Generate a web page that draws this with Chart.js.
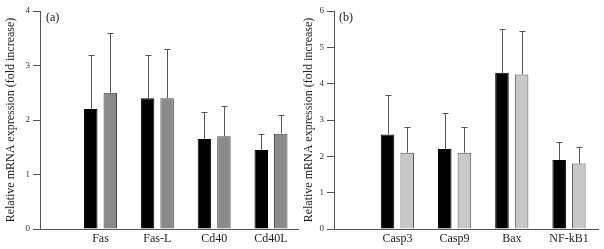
<!DOCTYPE html>
<html>
<head>
<meta charset="utf-8">
<script src="https://cdn.jsdelivr.net/npm/chart.js@4.4.0/dist/chart.umd.min.js"></script>
<style>
    html, body { margin: 0; padding: 0; background: #ffffff; }
    .panel { position: absolute; top: 0; }
    #panelA { left: 0; width: 300px; height: 249px; }
    #panelB { left: 300px; width: 304px; height: 249px; }
</style>
</head>
<body>
<div class="panel" id="panelA"><canvas id="chartA" width="300" height="249"></canvas></div>
<div class="panel" id="panelB"><canvas id="chartB" width="304" height="249"></canvas></div>
<script>
// ==========================================================================
// DATOS
// ==========================================================================
const genesA = ['Fas', 'Fas-L', 'Cd40', 'Cd40L'];
const blackA = [2.2, 2.4, 1.65, 1.45];
const grayA = [2.5, 2.4, 1.7, 1.75];
const blackErrA = [1.0, 0.8, 0.5, 0.3];
const grayErrA = [1.1, 0.9, 0.55, 0.35];
const yTicksA = [0, 1, 2, 3, 4];

const genesB = ['Casp3', 'Casp9', 'Bax', 'NF-kB1'];
const blackB = [2.6, 2.2, 4.3, 1.9];
const grayB = [2.1, 2.1, 4.25, 1.8];
const blackErrB = [1.1, 1.0, 1.2, 0.5];
const grayErrB = [0.7, 0.7, 1.2, 0.45];
const yTicksB = [0, 1, 2, 3, 4, 5, 6];

const yTitle = 'Relative mRNA expression (fold increase)';
const serif = "'Liberation Serif', 'DejaVu Serif', serif";

// Barras de error (solo hacia arriba, con remate)
const errorBars = {
    id: 'errorBars',
    afterDatasetsDraw(chart) {
        const ctx = chart.ctx;
        const yScale = chart.scales.y;
        ctx.save();
        ctx.strokeStyle = '#555';
        ctx.lineWidth = 1;
        chart.data.datasets.forEach((ds, di) => {
            const meta = chart.getDatasetMeta(di);
            meta.data.forEach((bar, i) => {
                const top = yScale.getPixelForValue(ds.data[i].y + ds.errors[i]);
                const x = Math.round(bar.x) + 0.5;
                const yt = Math.round(top) + 0.5;
                ctx.beginPath();
                ctx.moveTo(x, bar.y);
                ctx.lineTo(x, yt);
                ctx.moveTo(x - 3, yt);
                ctx.lineTo(x + 3, yt);
                ctx.stroke();
            });
        });
        ctx.restore();
    }
};

// Etiqueta del panel: (a), (b)
const panelLabel = {
    id: 'panelLabel',
    afterDraw(chart, args, opts) {
        const ctx = chart.ctx;
        ctx.save();
        ctx.font = '12px ' + serif;
        ctx.fillStyle = '#222';
        ctx.textBaseline = 'middle';
        ctx.fillText(opts.text, chart.chartArea.left + opts.dx, chart.chartArea.top + 7);
        ctx.restore();
    }
};

function toPoints(genes, vals) {
    return genes.map((g, i) => ({ x: i + 1, y: vals[i] }));
}

function crearPanel(canvasId, cfg) {
    return new Chart(document.getElementById(canvasId), {
        type: 'bar',
        data: {
            datasets: [{
                data: toPoints(cfg.genes, cfg.black),
                errors: cfg.blackErr,
                backgroundColor: '#000',
                borderColor: '#000',
                borderWidth: 1
            }, {
                data: toPoints(cfg.genes, cfg.gray),
                errors: cfg.grayErr,
                backgroundColor: cfg.grayFill,
                borderColor: cfg.grayLine,
                borderWidth: 1
            }]
        },
        options: {
            responsive: false,
            animation: false,
            categoryPercentage: 0.687,
            barPercentage: 0.69,
            layout: { padding: { top: 11, right: cfg.padRight, left: 0, bottom: 0 } },
            plugins: {
                legend: { display: false },
                tooltip: { enabled: false },
                panelLabel: { text: cfg.label, dx: cfg.labelDx }
            },
            scales: {
                x: {
                    type: 'linear',
                    offset: false,
                    min: cfg.xMin,
                    max: cfg.xMax,
                    afterBuildTicks: (scale) => {
                        scale.ticks = cfg.genes.map((g, i) => ({ value: i + 1 }));
                    },
                    afterFit: (scale) => { scale.height = 20; },
                    grid: { display: false, drawTicks: false, offset: false },
                    border: { display: true, color: '#555', width: 1 },
                    ticks: {
                        autoSkip: false,
                        maxRotation: 0,
                        padding: 3,
                        color: '#222',
                        font: { family: serif, size: 12 },
                        callback: (v) => cfg.genes[v - 1] || ''
                    }
                },
                y: {
                    min: cfg.yTicks[0],
                    max: cfg.yTicks[cfg.yTicks.length - 1],
                    afterBuildTicks: (scale) => {
                        scale.ticks = cfg.yTicks.map(v => ({ value: v }));
                    },
                    afterFit: (scale) => { scale.width = cfg.yWidth; },
                    grid: { drawOnChartArea: false, drawTicks: true, tickLength: 7, color: '#555' },
                    border: { display: true, color: '#555', width: 1 },
                    ticks: {
                        padding: 3,
                        color: '#333',
                        font: { family: serif, size: 9 }
                    },
                    title: {
                        display: true,
                        text: yTitle,
                        color: '#222',
                        padding: { top: cfg.titlePad, bottom: 0 },
                        font: { family: serif, size: 12 }
                    }
                }
            }
        },
        plugins: [errorBars, panelLabel]
    });
}

crearPanel('chartA', {
    genes: genesA, black: blackA, gray: grayA,
    blackErr: blackErrA, grayErr: grayErrA, yTicks: yTicksA,
    grayFill: '#8a8a8a', grayLine: '#444',
    xMin: -0.065, xMax: 4.475, yWidth: 40, padRight: 2,
    titlePad: 4, label: '(a)', labelDx: 6
});

crearPanel('chartB', {
    genes: genesB, black: blackB, gray: grayB,
    blackErr: blackErrB, grayErr: grayErrB, yTicks: yTicksB,
    grayFill: '#c8c8c8', grayLine: '#555',
    xMin: -0.108, xMax: 4.507, yWidth: 34, padRight: 6,
    titlePad: 2, label: '(b)', labelDx: 5
});
</script>
</body>
</html>
